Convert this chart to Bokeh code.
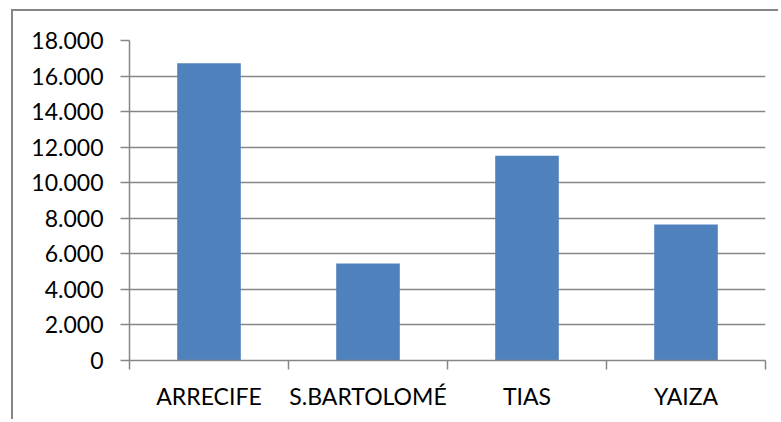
from bokeh.plotting import figure
from bokeh.models import Range1d, FixedTicker
from bokeh.embed import file_html
from bokeh.resources import INLINE

categories = ["ARRECIFE", "S.BARTOLOMÉ", "TIAS", "YAIZA"]
values = [16720, 5450, 11520, 7650]
y_ticks = [0, 2000, 4000, 6000, 8000, 10000, 12000, 14000, 16000, 18000]
y_tick_labels = ["0", "2.000", "4.000", "6.000", "8.000", "10.000",
                 "12.000", "14.000", "16.000", "18.000"]

GRAY = "#868686"
FONT = "Lato"
FSIZE = "23px"

n = len(categories)
centers = [i + 0.5 for i in range(n)]

p = figure(width=767, height=410,
           x_range=Range1d(0, n), y_range=Range1d(0, 18000),
           output_backend="svg", toolbar_location=None,
           min_border_left=116, min_border_right=15,
           min_border_top=29, min_border_bottom=61)

p.styles = {"border-left": f"2px solid {GRAY}", "border-top": f"2px solid {GRAY}",
            "margin-left": "11px", "margin-top": "9px"}

p.vbar(x=centers, top=values, width=0.4, bottom=0,
       fill_color="#4F81BD", line_color=None)

p.outline_line_color = None
p.background_fill_color = "white"
p.border_fill_color = "white"

# grid
p.xgrid.grid_line_color = None
p.ygrid.grid_line_color = GRAY
p.ygrid.grid_line_width = 1.5
p.ygrid.ticker = FixedTicker(ticks=y_ticks)

# y axis
p.yaxis.ticker = FixedTicker(ticks=y_ticks)
p.yaxis.major_label_overrides = {t: l for t, l in zip(y_ticks, y_tick_labels)}
p.yaxis.axis_line_color = GRAY
p.yaxis.axis_line_width = 1.5
p.yaxis.major_tick_line_color = GRAY
p.yaxis.major_tick_line_width = 1.5
p.yaxis.major_tick_out = 9
p.yaxis.major_tick_in = 0
p.yaxis.minor_tick_line_color = None
p.yaxis.major_label_standoff = 17
p.yaxis.major_label_text_font = FONT
p.yaxis.major_label_text_font_size = FSIZE
p.yaxis.major_label_text_color = "#000000"

# x axis
p.xaxis.ticker = FixedTicker(ticks=centers, minor_ticks=list(range(n + 1)))
p.xaxis.major_label_overrides = {c: cat for c, cat in zip(centers, categories)}
p.xaxis.axis_line_color = GRAY
p.xaxis.axis_line_width = 1.5
p.xaxis.major_tick_line_color = None
p.xaxis.minor_tick_line_color = GRAY
p.xaxis.minor_tick_line_width = 1.5
p.xaxis.minor_tick_out = 9
p.xaxis.minor_tick_in = 0
p.xaxis.major_label_standoff = 12
p.xaxis.major_label_text_font = FONT
p.xaxis.major_label_text_font_size = FSIZE
p.xaxis.major_label_text_color = "#000000"

open("out.html", "w").write(file_html(p, INLINE))
